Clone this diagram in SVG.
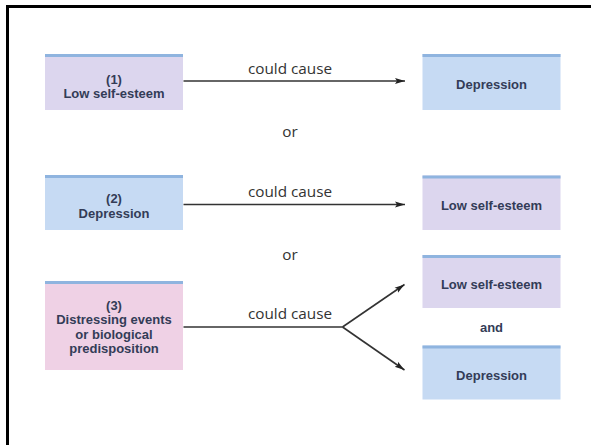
<svg xmlns="http://www.w3.org/2000/svg" width="591" height="445" viewBox="0 0 591 445">
<style>
.lav{fill:#dcd6ee}
.blu{fill:#c6daf3}
.pnk{fill:#efd1e5}
.stripe{fill:#8fb4df}
.t{font-family:"Liberation Sans",Arial,sans-serif;font-size:13px;font-weight:700;fill:#333c57;text-anchor:middle}
.c{font-family:"Open Sans","Liberation Sans",sans-serif;font-size:15.3px;font-weight:500;fill:#333;text-anchor:middle}
.ln{stroke:#333;stroke-width:1.6;fill:none}
</style>
<defs>
<marker id="ah" markerUnits="userSpaceOnUse" markerWidth="12" markerHeight="8" refX="10" refY="4" orient="auto" viewBox="0 0 12 8">
<path d="M0,1 L10,4 L0,7 L2,4 z" fill="#222"/>
</marker>
</defs>
<rect width="591" height="445" fill="#fff"/>
<path d="M7.5,445 V6.5 H591" fill="none" stroke="#000" stroke-width="3"/>

<g id="n1">
<rect class="lav" x="45" y="54" width="138" height="56"/>
<rect class="stripe" x="45" y="54" width="138" height="3"/>
<text class="t" x="114" y="83.5">(1)</text>
<text class="t" x="114" y="98">Low self-esteem</text>
</g>
<g id="n1r">
<rect class="blu" x="422.5" y="54" width="138" height="56"/>
<rect class="stripe" x="422.5" y="54" width="138" height="3"/>
<text class="t" x="491.5" y="89">Depression</text>
</g>
<g id="n2">
<rect class="blu" x="45" y="175" width="138" height="55"/>
<rect class="stripe" x="45" y="175" width="138" height="3"/>
<text class="t" x="114" y="203">(2)</text>
<text class="t" x="114" y="217.5">Depression</text>
</g>
<g id="n2r">
<rect class="lav" x="422.5" y="175.5" width="138" height="54.5"/>
<rect class="stripe" x="422.5" y="175.5" width="138" height="3"/>
<text class="t" x="491.5" y="209.5">Low self-esteem</text>
</g>
<g id="n3">
<rect class="pnk" x="45" y="281" width="138" height="89"/>
<rect class="stripe" x="45" y="281" width="138" height="3"/>
<text class="t" x="114" y="309.5">(3)</text>
<text class="t" x="114" y="324">Distressing events</text>
<text class="t" x="114" y="338.5">or biological</text>
<text class="t" x="114" y="353">predisposition</text>
</g>
<g id="n3a">
<rect class="lav" x="422.5" y="255" width="138" height="53"/>
<rect class="stripe" x="422.5" y="255" width="138" height="3"/>
<text class="t" x="491.5" y="289">Low self-esteem</text>
</g>
<g id="n3b">
<rect class="blu" x="422.5" y="345.5" width="138" height="54"/>
<rect class="stripe" x="422.5" y="345.5" width="138" height="3"/>
<text class="t" x="491.5" y="380">Depression</text>
</g>

<g id="labels">
<text class="c" x="290" y="73.5">could cause</text>
<text class="c" x="290" y="136.5">or</text>
<text class="c" x="290" y="196.5">could cause</text>
<text class="c" x="290" y="259.5">or</text>
<text class="c" x="290" y="319">could cause</text>
<text class="t" x="491.5" y="331.5">and</text>
</g>

<g id="connectors">
<line class="ln" x1="183.5" y1="81" x2="405" y2="81" marker-end="url(#ah)"/>
<line class="ln" x1="183.5" y1="204.5" x2="405" y2="204.5" marker-end="url(#ah)"/>
<line class="ln" x1="183.5" y1="327" x2="342.5" y2="327"/>
<line class="ln" x1="342.5" y1="327" x2="404.5" y2="284.5" marker-end="url(#ah)"/>
<line class="ln" x1="342.5" y1="327" x2="404.5" y2="370" marker-end="url(#ah)"/>
</g>
</svg>
